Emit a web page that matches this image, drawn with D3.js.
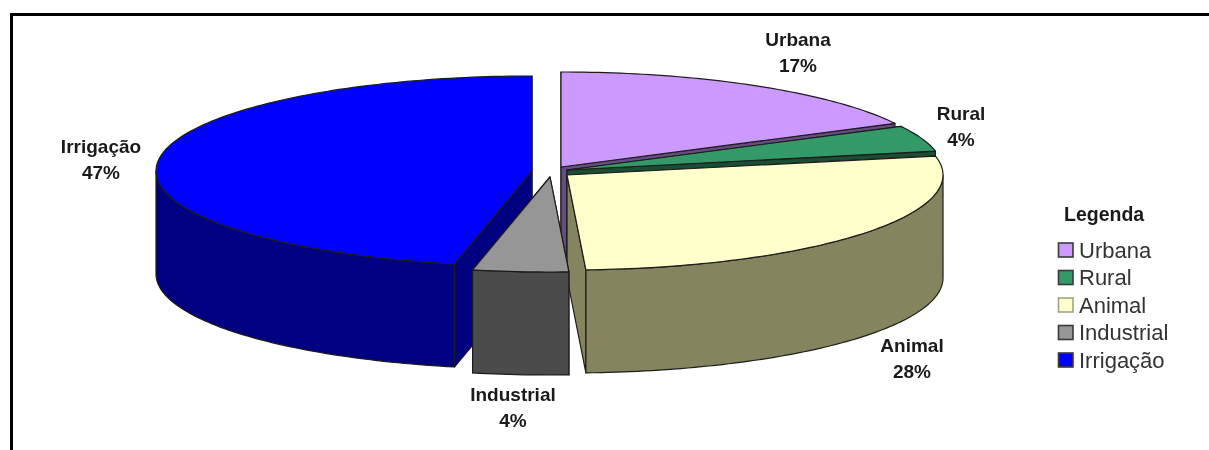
<!DOCTYPE html>
<html><head><meta charset="utf-8">
<script src="https://cdn.jsdelivr.net/npm/d3@7/dist/d3.min.js"></script>
<style>html,body{margin:0;padding:0;background:#fff}svg{display:block}text{font-family:"Liberation Sans",Arial,sans-serif;fill:#1a1a1a}.soft{filter:blur(0.5px)}</style>
</head><body><svg id="c" width="1209" height="450"></svg>
<script>
const categories = ["Urbana","Rural","Animal","Industrial","Irrigação"];
const values = [17.4,4.4,27.4,4.1,46.7];
const percentLabels = ["17%","4%","28%","4%","47%"];
const topColors = ["#cc99ff","#339966","#ffffcc","#969696","#0000ff"];
const sideColors = ["#664c80","#1a4d33","#84845f","#4b4b4b","#000080"];
const legendTitle = "Legenda";
const centers = [[561,167],[567,170],[567,175],[550,177],[532,171]];
const labelPos = [[798,46],[961,120],[912,352],[513,401],[101,153]];
const paintOrder = [0,1,4,2,3];
const rx=376, ry=95, depth=103;

const svg=d3.select("#c");
const W=1209,H=450;
svg.append("path").attr("d",`M11.5,${H}V14.5H${W}`).attr("fill","none").attr("stroke","#000").attr("stroke-width",3);

const arcs=d3.pie().sort(null).value(d=>d).startAngle(0).endAngle(2*Math.PI)(values);
const xS=d3.scaleLinear().domain([-1,1]);
const yS=d3.scaleLinear().domain([-1,1]);
const line=d3.line();
function project(i,a,dz){
  const [cx,cy]=centers[i];
  xS.range([cx-rx,cx+rx]); yS.range([cy+ry+dz,cy-ry+dz]);
  return [xS(Math.sin(a)),yS(Math.cos(a))];
}
function samples(a0,a1){
  const n=Math.max(2,Math.ceil((a1-a0)/0.02));
  return d3.range(n+1).map(k=>a0+(a1-a0)*k/n);
}
const root=svg.append("g").attr("class","soft");
const g=root.append("g").attr("stroke","#1c1c1c").attr("stroke-width",1.2).attr("stroke-linejoin","round");
paintOrder.forEach(i=>{
  const a=arcs[i], a0=a.startAngle, a1=a.endAngle;
  const apex=[centers[i][0],centers[i][1]];
  const apexB=[apex[0],apex[1]+depth];
  [a0,a1].forEach(t=>{
    g.append("path").attr("fill",sideColors[i])
     .attr("d",line([apex,project(i,t,0),project(i,t,depth),apexB])+"Z");
  });
  const s=Math.max(a0,Math.PI/2), e=Math.min(a1,3*Math.PI/2);
  if(e>s){
    const pts=samples(s,e);
    g.append("path").attr("fill",sideColors[i])
     .attr("d",line(pts.map(t=>project(i,t,0)).concat(pts.slice().reverse().map(t=>project(i,t,depth))))+"Z");
  }
  g.append("path").attr("fill",topColors[i])
   .attr("d",line([apex].concat(samples(a0,a1).map(t=>project(i,t,0))))+"Z");
});
categories.forEach((c,i)=>{
  const t=root.append("text").attr("text-anchor","middle").attr("font-weight","bold").attr("font-size",19);
  t.append("tspan").attr("x",labelPos[i][0]).attr("y",labelPos[i][1]).text(c);
  t.append("tspan").attr("x",labelPos[i][0]).attr("y",labelPos[i][1]+26).text(percentLabels[i]);
});
root.append("text").attr("x",1064).attr("y",221).attr("font-size",19.5).attr("font-weight","bold").text(legendTitle);
const ly=d3.scalePoint().domain(categories).range([243,353]);
categories.forEach((c,i)=>{
  root.append("rect").attr("x",1058.5).attr("y",ly(c)).attr("width",14.5).attr("height",14)
    .attr("fill",topColors[i]).attr("stroke",i==2?"#a3a37f":"#3a3a3a").attr("stroke-width",1.6);
  root.append("text").attr("x",1079).attr("y",ly(c)+14.5).attr("font-size",22).attr("fill","#333").style("fill","#333").text(c);
});
</script></body></html>
